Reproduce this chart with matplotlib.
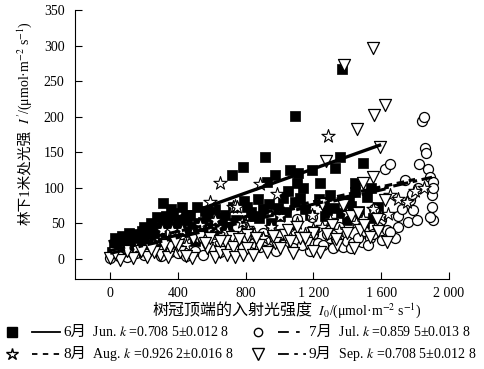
import matplotlib
matplotlib.use("Agg")
import matplotlib.pyplot as plt
from matplotlib.lines import Line2D

plt.rcParams['font.family'] = ['Liberation Serif', 'Noto Sans CJK SC']
plt.rcParams['mathtext.fontset'] = 'stix'
plt.rcParams['font.size'] = 10

# June (filled squares)
jun_x = [20, 40, 60, 80, 100, 120, 140, 160, 180, 200, 220, 240, 260, 280, 300,
         10, 50, 90, 130, 170, 210, 250, 30, 70, 110, 150, 190,
         277, 313, 340, 372, 400, 425, 454, 480, 513, 549, 580, 600, 631, 660,
         690, 726, 720, 785, 808, 840, 870, 900, 926, 915, 950, 973, 1000, 1021,
         1062, 1092, 1103, 1110, 1121, 1150, 1192, 1239, 1280, 1300, 1328, 1357,
         1369, 1398, 1446, 1446, 1493, 1516, 1540, 1581, 1200, 1000, 850, 700, 500,
         380, 450, 560, 650, 760, 1050, 1260, 1420,
         200, 240, 290, 330, 360, 420, 470, 520, 570, 620, 680, 740, 790, 830,
         880, 940, 990, 1040, 1090, 1140, 1180, 1230, 1270, 1320, 1360, 1410,
         1470, 1500, 1550, 300, 430, 530, 610, 710]
jun_y = [20, 25, 15, 30, 22, 28, 18, 35, 25, 30, 20, 38, 28, 45, 35,
         10, 12, 14, 10, 16, 12, 15, 30, 33, 36, 28, 40,
         59, 79, 50, 65, 55, 73, 55, 45, 73, 52, 60, 40, 41, 55,
         45, 73, 118, 129, 73, 60, 85, 70, 108, 143, 50, 118, 60, 86,
         125, 201, 107, 121, 86, 70, 125, 107, 69, 90, 128, 143,
         267, 55, 107, 94, 135, 87, 100, 73, 40, 35, 30, 30, 25,
         45, 62, 68, 58, 52, 95, 80, 75,
         45, 50, 40, 60, 70, 48, 62, 50, 65, 70, 62, 55, 82, 66,
         58, 78, 72, 66, 80, 100, 62, 85, 60, 72, 65, 82,
         68, 50, 58, 25, 38, 42, 50, 44]

# July (open circles)
jul_x = [0, 50, 100, 150, 200, 300, 350, 400, 450, 500, 550, 600, 650, 700, 750,
         800, 850, 903, 962, 885, 785, 749, 915, 1000, 1050, 1103, 1150, 1192, 1200,
         1227, 1257, 1300, 1316, 1350, 1375, 1400, 1434, 1487, 1500, 1534, 1550,
         1605, 1623, 1634, 1652, 1682, 1699, 1740, 1758, 1770, 1782, 1788, 1811,
         1817, 1823, 1841, 1853, 1859, 1864, 1876, 1888, 1900, 1900, 1906, 1906,
         1906, 1888, 1600, 1700, 1560,
         1080, 1130, 1180, 1280, 1330, 1420, 1460, 1520, 1580, 1650, 1720, 980]
jul_y = [2, 5, 3, 8, 6, 5, 10, 8, 4, 12, 6, 15, 10, 20, 25,
         30, 22, 37, 27, 17, 17, 45, 27, 35, 30, 57, 25, 59, 35,
         22, 20, 30, 15, 45, 17, 25, 22, 24, 40, 30, 35,
         27, 126, 41, 134, 30, 45, 111, 52, 83, 92, 69, 55,
         100, 134, 194, 200, 156, 149, 126, 116, 90, 73, 109, 100,
         55, 59, 55, 60, 70,
         15, 20, 12, 35, 28, 15, 30, 20, 45, 38, 70, 12]

# August (open stars)
aug_x = [100, 150, 200, 250, 295, 307, 350, 366, 413, 425, 450, 500, 549, 572,
         590, 600, 631, 649, 667, 700, 726, 738, 749, 808, 814, 850, 885, 900,
         950, 985, 1033, 1050, 1100, 1150, 1192, 1250, 1286, 1300, 1350, 1400,
         1450, 1487, 1493, 1550, 1600, 1640, 1650, 1700, 1752, 1800, 1850,
         480, 530, 620, 690, 780, 1000, 1200]
aug_y = [10, 15, 12, 20, 27, 41, 25, 41, 30, 41, 20, 30, 41, 41,
         80, 25, 45, 107, 34, 30, 73, 75, 73, 44, 41, 35, 105, 30,
         45, 92, 24, 40, 50, 35, 62, 45, 173, 55, 40, 65,
         50, 57, 57, 70, 60, 64, 90, 85, 80, 95, 100,
         35, 48, 55, 38, 52, 60, 42]

# September (open down triangles)
sep_x = [0, 59, 136, 218, 295, 342, 354, 413, 484, 490, 531, 572, 590, 620, 649,
         690, 720, 726, 738, 785, 808, 808, 844, 926, 973, 1033, 1050, 1103, 1162,
         1198, 1251, 1274, 1310, 1375, 1381, 1398, 1457, 1475, 1493, 1534, 1552,
         1552, 1558, 1575, 1593, 1623, 1623, 1634, 30, 180, 260, 400, 450, 680,
         880, 1000, 1120, 1240, 1340, 1440,
         100, 240, 320, 380, 560, 650, 760, 860, 960, 1060, 1150, 1280, 1420, 1500,
         1080, 1200, 1330, 1460, 1580]
sep_y = [1, -1, 1, 3, 6, 3, 17, 10, 1, 30, 31, 15, 30, 3, 10,
         6, 31, 17, 3, 6, 15, 34, 6, 10, 22, 34, 41, 45, 22,
         37, 77, 138, 48, 76, 273, 37, 183, 41, 107, 31, 297,
         115, 202, 57, 157, 217, 83, 24, 8, 12, 10, 20, 5, 25,
         20, 15, 30, 10, 20, 15,
         12, 14, 20, 24, 22, 26, 28, 30, 32, 25, 30, 35, 60, 48,
         8, 12, 28, 65, 40]

# fitted lines
fit_jun_x, fit_jun_y = [0, 1590], [25, 160]
fit_jul_x, fit_jul_y = [0, 1900], [12, 115]
fit_aug_x, fit_aug_y = [0, 1800], [18, 112]
fit_sep_x, fit_sep_y = [0, 1650], [8, 100]

x_ticks = [0, 400, 800, 1200, 1600, 2000]
x_tick_labels = ['0', '400', '800', '1 200', '1 600', '2 000']
y_ticks = [0, 50, 100, 150, 200, 250, 300, 350]

W, H = 485, 369
fig = plt.figure(figsize=(W / 100, H / 100), dpi=100)
ax = fig.add_axes([75.5 / W, 1 - 279 / H, (449 - 75.5) / W, (279 - 10) / H])

ax.scatter(jun_x, jun_y, marker='s', s=45, c='black', edgecolors='black', linewidths=0.5, zorder=2)
ax.scatter(jul_x, jul_y, marker='o', s=52, facecolors='white', edgecolors='black', linewidths=0.9, zorder=3)
ax.scatter(aug_x, aug_y, marker='*', s=100, facecolors='white', edgecolors='black', linewidths=0.8, zorder=4)
ax.scatter(sep_x, sep_y, marker='v', s=75, facecolors='white', edgecolors='black', linewidths=0.9, zorder=5)

ax.plot(fit_jun_x, fit_jun_y, color='black', lw=2.4, ls='-', zorder=6)
ax.plot(fit_jul_x, fit_jul_y, color='black', lw=2.2, ls=(0, (5, 1.5, 1.5, 1.5)), zorder=6)
ax.plot(fit_aug_x, fit_aug_y, color='black', lw=2.2, ls=(0, (2.5, 1.5)), zorder=6)
ax.plot(fit_sep_x, fit_sep_y, color='black', lw=2.2, ls=(0, (5, 1.5, 1.5, 1.5, 1.5, 1.5)), zorder=6)

ax.set_xlim(-205, 2000)
ax.set_ylim(-28, 350)
ax.set_xticks(x_ticks)
ax.set_xticklabels(x_tick_labels)
ax.set_yticks(y_ticks)
ax.tick_params(direction='in', length=5, width=0.8, labelsize=10)
ax.tick_params(axis='x', pad=6)
ax.tick_params(axis='y', pad=8)
for s in ['top', 'right']:
    ax.spines[s].set_visible(False)
ax.spines['left'].set_linewidth(0.8)
ax.spines['bottom'].set_linewidth(0.8)

renderer = fig.canvas.get_renderer()


def chain(x, y, pieces, vertical=False, center=False):
    # draw (text, size) pieces one after another; x, y in pixels from top-left (baseline)
    texts = []
    pos = 0.0
    for s, size in pieces:
        if vertical:
            t = fig.text(x / W, 1 - (y - pos) / H, s, rotation=90, rotation_mode='anchor',
                         ha='left', va='baseline', fontsize=size)
            pos += t.get_window_extent(renderer).height
        else:
            t = fig.text((x + pos) / W, 1 - y / H, s, ha='left', va='baseline', fontsize=size)
            pos += t.get_window_extent(renderer).width
        texts.append(t)
    if center:
        for t in texts:
            px, py = t.get_position()
            if vertical:
                t.set_position((px, py - pos / 2 / H))
            else:
                t.set_position((px - pos / 2 / W, py))
    return texts


chain(29, 123, [("林下1米处光强", 10.5), ("  $I'$/(μmol·m$^{-2}$ s$^{-1}$)", 10)],
      vertical=True, center=True)
chain(287, 315, [("树冠顶端的入射光强度", 11.5), ("  $I_0$/(μmol·m$^{-2}$ s$^{-1}$)", 10)],
      center=True)


def legend_entry(x0, y0, marker, ms, fill, ls, month, text):
    fy = 1 - y0 / H
    fig.add_artist(Line2D([x0 / W], [fy], marker=marker, ms=ms, mfc=fill, mec='black',
                          mew=1.0, ls='none', transform=fig.transFigure))
    fig.add_artist(Line2D([(x0 + 20) / W, (x0 + 48) / W], [fy, fy], color='black', lw=1.3,
                          ls=ls, transform=fig.transFigure))
    chain(x0 + 51, y0 + 4, [(month, 11), (text, 10)])


legend_entry(12, 332, 's', 7, 'black', '-', "6月", "  Jun. $k$ =0.708 5±0.012 8")
legend_entry(258, 332, 'o', 6, 'white', (0, (6, 4, 2, 4)), "7月", "  Jul. $k$ =0.859 5±0.013 8")
legend_entry(12, 354, '*', 9, 'white', (0, (3, 3)), "8月", "  Aug. $k$ =0.926 2±0.016 8")
legend_entry(258, 354, 'v', 8, 'white', (0, (6, 3, 2, 3, 2, 3)), "9月", "  Sep. $k$ =0.708 5±0.012 8")

fig.savefig('out.png', dpi=100)
